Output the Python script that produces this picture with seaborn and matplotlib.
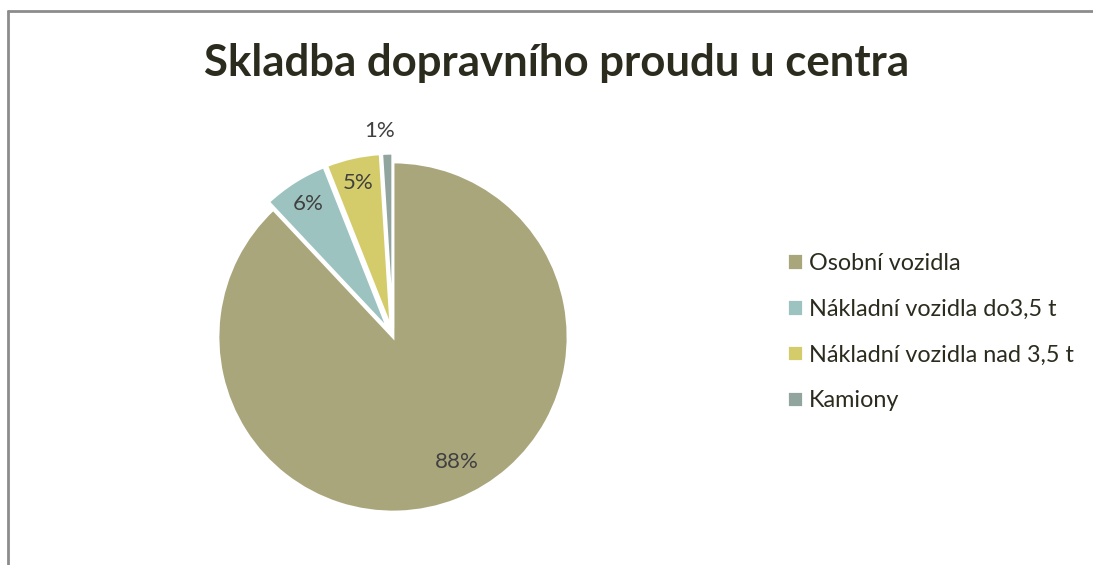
import matplotlib
matplotlib.use("Agg")
import matplotlib.pyplot as plt
from matplotlib.lines import Line2D
import seaborn as sns

categories = ["Osobní vozidla", "Nákladní vozidla do3,5 t", "Nákladní vozidla nad 3,5 t", "Kamiony"]
values = [88, 6, 5, 1]
colors = ["#A9A67C", "#9DC3C1", "#D4CC6B", "#91A59E"]
explode = [0, 0.05, 0.05, 0.05]
label_dist_scale = [0.80 / 0.85, 1.0, 1.0, 1.11 / 0.85]

sns.set_style("white")
plt.rcParams['font.family'] = ['Lato', 'DejaVu Sans']

W, H = 1093, 565
fig = plt.figure(figsize=(W / 100, H / 100), dpi=100)

cx, cy, R = 393, 337, 175
half = 1.25 * R
ax = fig.add_axes([(cx - half) / W, (H - cy - half) / H, 2 * half / W, 2 * half / H])

wedges, texts, autotexts = ax.pie(
    values, colors=colors, explode=explode, startangle=90, counterclock=False,
    autopct=lambda p: f"{p:.0f}%", pctdistance=0.85, radius=1,
    wedgeprops=dict(edgecolor="white", linewidth=2),
    textprops=dict(fontsize=16, color="#404040"))
for i, (t, s) in enumerate(zip(autotexts, label_dist_scale)):
    x, y = t.get_position()
    if i == 0:
        t.set_position((x * s + 0.07, y * s + 0.03))
    elif i == 3:
        t.set_position((x * s - 0.04, y * s))
    else:
        t.set_position((x * s, y * s))
ax.set_xlim(-1.25, 1.25)
ax.set_ylim(-1.25, 1.25)
ax.set_aspect("equal")
ax.axis("off")

fig.text(557 / W, 1 - 63 / H, "Skladba dopravního proudu u centra", ha="center", va="center",
         fontsize=31.5, fontweight="bold", color="#2B2B1E")

fig.legend(wedges, categories, loc="center left", bbox_to_anchor=(766 / W, 1 - 332 / H),
           frameon=False, fontsize=16.8, handlelength=0.7, handleheight=0.7,
           handletextpad=0.25, labelspacing=1.07, labelcolor="#2B2B1E")

border = "#8C8C8C"
fig.add_artist(Line2D([8 / W, 1], [1 - 11 / H, 1 - 11 / H], color=border, lw=2, transform=fig.transFigure))
fig.add_artist(Line2D([8 / W, 8 / W], [0, 1 - 11 / H], color=border, lw=2, transform=fig.transFigure))

fig.savefig("out.png", dpi=100)
